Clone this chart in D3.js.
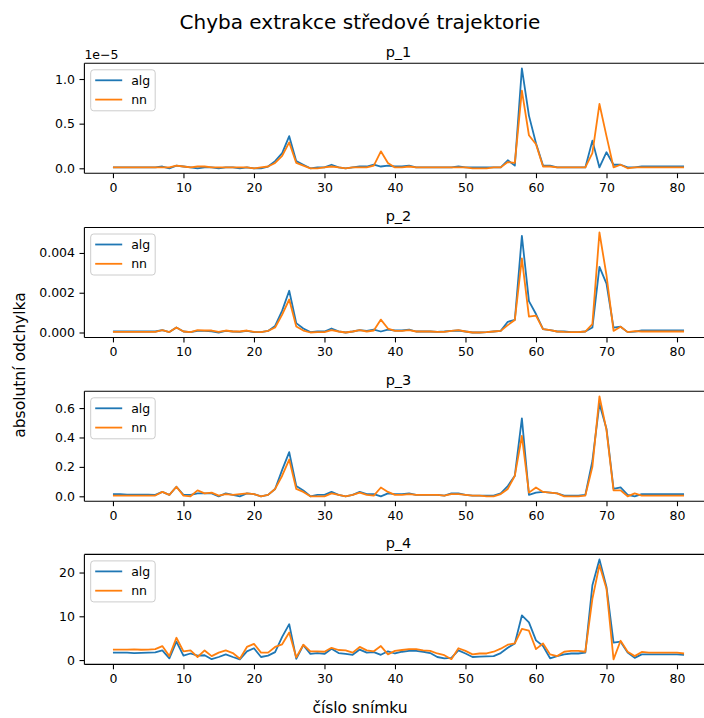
<!DOCTYPE html>
<html>
<head>
    <style type="text/css">
        body { margin: 0; background: #fff; }
        svg { display: block; }
        text {
            font-family: "DejaVu Sans", sans-serif;
            fill: #000;
        }
        .tick text { font-size: 12.5px; }
        .domain, .tick line { stroke: #000; stroke-width: 1.1px; }
        .series { fill: none; stroke-width: 1.8px; stroke-linejoin: round; }
        .alg { stroke: #1f77b4; }
        .nn { stroke: #ff7f0e; }
    </style>
    <script src="https://d3js.org/d3.v7.min.js"></script>
</head>
<body>
    <svg id="mySvg" width="704" height="718"></svg>
</body>
<script type="text/javascript">
// snimky 0..81
const frames = d3.range(82);

// p_1 (v jednotkach 1e-5)
const p1Alg = [0.01,0.01,0.01,0.01,0.01,0.01,0.01,0.02,0.00,0.03,0.02,0.01,0.00,0.01,0.01,0.00,0.01,0.01,0.00,0.01,
    0.00,0.00,0.02,0.08,0.17,0.36,0.08,0.04,0.00,0.01,0.01,0.04,0.01,0.00,0.01,0.02,0.02,0.04,0.02,0.03,
    0.02,0.02,0.03,0.01,0.01,0.01,0.01,0.01,0.01,0.02,0.01,0.01,0.01,0.01,0.01,0.01,0.09,0.03,1.12,0.59,
    0.28,0.03,0.03,0.01,0.01,0.01,0.01,0.01,0.31,0.01,0.18,0.04,0.04,0.01,0.01,0.02,0.02,0.02,0.02,0.02,
    0.02,0.02];
const p1Nn = [0.01,0.01,0.01,0.01,0.01,0.01,0.01,0.01,0.01,0.03,0.02,0.01,0.02,0.02,0.01,0.01,0.01,0.01,0.01,0.01,
    0.00,0.01,0.02,0.06,0.14,0.29,0.06,0.03,0.00,0.00,0.01,0.02,0.01,0.00,0.01,0.01,0.01,0.03,0.19,0.06,
    0.01,0.01,0.02,0.01,0.01,0.01,0.01,0.01,0.01,0.01,0.01,0.00,0.00,0.00,0.01,0.01,0.07,0.06,0.87,0.37,
    0.27,0.02,0.02,0.01,0.01,0.01,0.01,0.01,0.17,0.72,0.36,0.01,0.04,0.00,0.01,0.01,0.01,0.01,0.01,0.01,
    0.01,0.01];

// p_2 (v tisicinach)
const p2Alg = [0.05,0.05,0.05,0.05,0.05,0.05,0.05,0.12,0.02,0.25,0.05,0.02,0.08,0.08,0.06,0.00,0.08,0.05,0.03,0.08,
    0.02,0.02,0.08,0.33,1.10,2.10,0.47,0.20,0.02,0.05,0.05,0.20,0.06,0.00,0.05,0.12,0.08,0.15,0.05,0.15,
    0.10,0.10,0.15,0.05,0.05,0.05,0.03,0.05,0.08,0.10,0.05,0.00,0.00,0.02,0.05,0.08,0.54,0.63,4.86,1.58,
    0.93,0.17,0.12,0.05,0.05,0.02,0.02,0.05,0.25,3.30,2.46,0.25,0.29,0.02,0.04,0.10,0.10,0.10,0.10,0.10,
    0.10,0.10];
const p2Nn = [0.03,0.03,0.03,0.03,0.03,0.03,0.03,0.12,0.02,0.25,0.05,0.02,0.12,0.10,0.10,0.03,0.10,0.05,0.05,0.10,
    0.03,0.02,0.08,0.25,0.90,1.66,0.30,0.10,0.00,0.02,0.02,0.12,0.05,0.00,0.05,0.12,0.05,0.10,0.65,0.20,
    0.08,0.08,0.12,0.05,0.05,0.05,0.03,0.03,0.08,0.12,0.05,0.00,0.00,0.02,0.05,0.08,0.37,0.63,3.73,0.80,
    0.85,0.17,0.12,0.05,0.03,0.02,0.02,0.05,0.42,5.03,2.88,0.08,0.29,0.02,0.07,0.05,0.05,0.05,0.05,0.05,
    0.05,0.05];

// p_3
const p3Alg = [0.015,0.015,0.012,0.012,0.012,0.012,0.010,0.030,0.010,0.065,0.010,0.010,0.020,0.020,0.020,0.000,0.020,0.010,0.000,0.020,
    0.015,0.000,0.010,0.050,0.180,0.300,0.070,0.040,0.000,0.010,0.010,0.030,0.010,0.000,0.010,0.030,0.015,0.015,0.000,0.020,
    0.015,0.015,0.020,0.010,0.010,0.010,0.010,0.005,0.020,0.020,0.010,0.005,0.005,0.005,0.005,0.020,0.070,0.140,0.530,0.010,
    0.025,0.030,0.025,0.020,0.005,0.005,0.005,0.010,0.240,0.630,0.460,0.050,0.060,0.010,0.000,0.015,0.015,0.015,0.015,0.015,
    0.015,0.015];
const p3Nn = [0.005,0.005,0.005,0.005,0.005,0.005,0.005,0.030,0.010,0.065,0.005,0.000,0.040,0.020,0.025,0.005,0.015,0.010,0.015,0.020,
    0.015,0.000,0.010,0.050,0.140,0.250,0.050,0.030,0.000,0.000,0.000,0.020,0.010,0.000,0.010,0.025,0.010,0.005,0.060,0.030,
    0.010,0.010,0.015,0.010,0.010,0.010,0.010,0.005,0.015,0.015,0.010,0.005,0.005,0.000,0.000,0.015,0.050,0.140,0.410,0.025,
    0.060,0.030,0.025,0.020,0.000,0.000,0.000,0.005,0.200,0.680,0.450,0.040,0.040,0.000,0.020,0.005,0.005,0.005,0.005,0.005,
    0.005,0.005];

// p_4
const p4Alg = [1.7,1.7,1.7,1.6,1.65,1.7,1.75,2.2,0.4,4.2,1.0,1.5,1.0,1.1,0.2,0.7,1.3,0.7,0.15,2.0,
    2.7,0.7,1.0,1.8,5.3,8.2,0.3,3.4,1.4,1.6,1.4,2.6,1.6,1.4,1.2,2.4,1.7,1.8,1.2,2.0,
    1.5,1.9,2.1,2.1,1.9,1.6,0.7,0.4,0.5,2.2,1.5,0.7,0.8,0.85,0.9,1.6,2.8,3.8,10.2,8.6,
    4.5,3.2,0.4,0.9,1.3,1.5,1.5,1.7,17.1,23.0,16.7,4.0,4.2,1.7,0.5,1.3,1.3,1.3,1.3,1.3,
    1.3,1.2];
const p4Nn = [2.4,2.4,2.4,2.45,2.35,2.4,2.5,3.2,0.9,5.1,2.0,2.2,0.7,2.2,0.9,1.7,2.2,1.6,0.3,3.0,
    3.7,1.7,1.7,3.0,3.6,6.3,0.6,3.5,2.0,2.0,1.9,2.8,2.3,2.2,1.7,3.0,2.2,2.0,3.2,1.3,
    2.1,2.3,2.5,2.5,2.2,2.1,1.5,1.1,0.2,2.7,2.1,1.3,1.5,1.5,1.9,2.6,3.5,3.8,7.1,6.7,
    2.5,3.8,1.3,0.9,1.9,2.1,2.1,1.9,14.0,21.7,16.3,0.15,4.4,1.9,0.9,1.85,1.7,1.7,1.7,1.7,
    1.7,1.5];

const panelNames = ['p_1', 'p_2', 'p_3', 'p_4'];
const seriesNames = ['alg', 'nn'];
const xTicks = [0, 10, 20, 30, 40, 50, 60, 70, 80];
const yTicks = [[0, 0.5, 1.0], [0, 0.002, 0.004], [0, 0.2, 0.4, 0.6], [0, 10, 20]];
const yFormats = ['.1f', '.3f', '.1f', 'd'];
const p2Unit = 0.001;

const panels = [
    { alg: p1Alg, nn: p1Nn },
    { alg: p2Alg.map(v => v * p2Unit), nn: p2Nn.map(v => v * p2Unit) },
    { alg: p3Alg, nn: p3Nn },
    { alg: p4Alg, nn: p4Nn }
];

const svg = d3.select('#mySvg');
const left = 84.4, right = 712.6, axH = 110;
const tops = [63.3, 227.5, 391.3, 554.4];

// matplotlib-like autoscale with 5% margins
const x = d3.scaleLinear().domain([-4.05, 85.05]).range([left, right]);

panels.forEach((p, i) => {
    const top = tops[i], bottom = top + axH;
    const all = p.alg.concat(p.nn);
    const lo = d3.min(all), hi = d3.max(all), pad = (hi - lo) * 0.05;
    const y = d3.scaleLinear().domain([lo - pad, hi + pad]).range([bottom, top]);

    const g = svg.append('g').attr('class', 'panel');

    const line = d3.line().x((d, k) => x(frames[k])).y(d => y(d));
    seriesNames.forEach(s => {
        g.append('path')
            .datum(p[s])
            .attr('class', 'series ' + s)
            .attr('d', line);
    });

    // axes
    g.append('g')
        .attr('transform', 'translate(0,' + bottom + ')')
        .call(d3.axisBottom(x).tickValues(xTicks).tickSize(4.9).tickPadding(4.5).tickFormat(d3.format('d')))
        .call(a => a.select('.domain').attr('d', 'M' + left + ',0H' + right));
    g.append('g')
        .attr('transform', 'translate(' + left + ',0)')
        .call(d3.axisLeft(y).tickValues(yTicks[i]).tickSize(4.9).tickPadding(4.5).tickFormat(d3.format(yFormats[i])))
        .call(a => a.select('.domain').attr('d', 'M0,' + top + 'V' + bottom));
    g.append('line').attr('x1', left).attr('x2', right).attr('y1', top).attr('y2', top)
        .attr('stroke', '#000').attr('stroke-width', 1.1);
    g.selectAll('.tick text').attr('font-family', null).attr('font-size', null);

    // title
    g.append('text')
        .attr('x', (left + right) / 2).attr('y', top - 6.5)
        .attr('text-anchor', 'middle').style('font-size', '14.5px')
        .text(panelNames[i]);

    // legend
    const lg = g.append('g').attr('transform', 'translate(' + (left + 6.3) + ',' + (top + 6.5) + ')');
    lg.append('rect').attr('width', 64.5).attr('height', 41).attr('rx', 3)
        .attr('fill', 'white').attr('fill-opacity', 0.8).attr('stroke', '#cccccc').attr('stroke-width', 1);
    seriesNames.forEach((s, k) => {
        const ly = 10.5 + k * 19.3;
        lg.append('line').attr('class', 'series ' + s)
            .attr('x1', 4.5).attr('x2', 31.5).attr('y1', ly).attr('y2', ly);
        lg.append('text').attr('x', 40.5).attr('y', ly).attr('dy', '0.35em')
            .style('font-size', '12.5px').text(s);
    });
});

// offset text for p_1
svg.append('text').attr('x', left).attr('y', tops[0] - 4)
    .style('font-size', '12.5px').text('1e\u22125');

// figure labels
svg.append('text').attr('x', 360).attr('y', 29)
    .attr('text-anchor', 'middle').style('font-size', '20px')
    .text('Chyba extrakce středové trajektorie');
svg.append('text').attr('x', 360).attr('y', 713)
    .attr('text-anchor', 'middle').style('font-size', '15.5px')
    .text('číslo snímku');
svg.append('text').attr('transform', 'translate(25,365) rotate(-90)')
    .attr('text-anchor', 'middle').style('font-size', '15.5px')
    .text('absolutní odchylka');
</script>
</html>
